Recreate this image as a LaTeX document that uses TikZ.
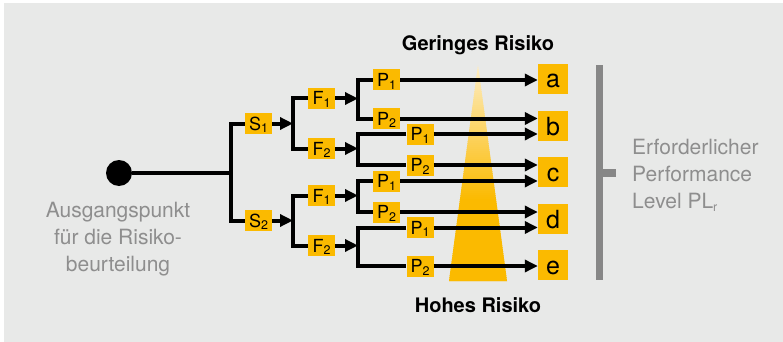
\documentclass[tikz,border=0pt]{standalone}
\usepackage{fontspec}
\setmainfont{TeX Gyre Heros}
\usetikzlibrary{arrows.meta}

\definecolor{panel}{HTML}{E8E9E8}
\definecolor{signal}{HTML}{FBBA00}
\definecolor{note}{HTML}{8E8E8E}
\definecolor{barcol}{HTML}{878787}
\definecolor{paleyellow}{HTML}{FDEDC4}

% letter with a lowered index
\newcommand\withsub[2]{#1\raisebox{-2.7pt}{\fontsize{12.5}{12.5}\selectfont #2}}

\tikzset{
  param/.style={fill=signal, minimum width=27pt, minimum height=21pt, inner sep=0pt,
    text height=17pt, text depth=4pt, font=\fontsize{18}{18}\selectfont},
  result/.style={fill=signal, minimum width=30pt, minimum height=30pt, inner sep=0pt,
    text height=24pt, text depth=6pt, font=\fontsize{25}{25}\selectfont},
  wire/.style={line width=4pt},
  arrow/.style={wire, -{Triangle[length=13pt,width=12pt]}},
  caption/.style={font=\fontsize{20}{20}\selectfont\bfseries, anchor=base, inner sep=0pt},
  remark/.style={text=note, font=\fontsize{21}{26.8}\selectfont, inner sep=0pt},
}

\begin{document}
\begin{tikzpicture}[x=1pt,y=-1pt]
\useasboundingbox (0,0) rectangle (783,342);
\fill[panel] (4,3) rectangle (783,342);

% wedge from low to high risk, pale at the tip and saturated towards the base
\begin{scope}
  \clip (478,65) -- (507,281) -- (449,281) -- cycle;
  \foreach \i [evaluate=\i as \p using {min(100,\i*100/67)}] in {0,...,108}
    \fill[signal!\p!paleyellow] (440,65+2*\i) rectangle (520,67.6+2*\i);
\end{scope}

% starting point
\node[circle, fill=black, minimum size=26pt, inner sep=0pt] (start) at (119,173) {};
\coordinate (fork0) at (231,173);

% severity
\node[param] (s1) at (258.5,123.5) {\withsub{S}{1}};
\node[param] (s2) at (258.5,220.5) {\withsub{S}{2}};
\coordinate (fork1) at (293,123.5);
\coordinate (fork2) at (293,220.5);

% frequency
\node[param] (f1a) at (321.5,98.5) {\withsub{F}{1}};
\node[param] (f2a) at (321.5,148.5) {\withsub{F}{2}};
\node[param] (f1b) at (321.5,195.5) {\withsub{F}{1}};
\node[param] (f2b) at (321.5,245.5) {\withsub{F}{2}};
\coordinate (forkA) at (358,98.5);
\coordinate (forkB) at (358,148.5);
\coordinate (forkC) at (358,195.5);
\coordinate (forkD) at (358,245.5);

% possibility of avoidance
\node[param] (p1a) at (386.5,80)  {\withsub{P}{1}};
\node[param] (p2a) at (386.5,118.5) {\withsub{P}{2}};
\node[param] (p1b) at (420,134)  {\withsub{P}{1}};
\node[param] (p2b) at (420,165)  {\withsub{P}{2}};
\node[param] (p1c) at (386.5,181) {\withsub{P}{1}};
\node[param] (p2c) at (386.5,212) {\withsub{P}{2}};
\node[param] (p1d) at (420,227.5) {\withsub{P}{1}};
\node[param] (p2d) at (420,266)  {\withsub{P}{2}};

% required performance levels
\node[result] (a) at (553,79)  {a};
\node[result] (b) at (553,126) {b};
\node[result] (c) at (553,172) {c};
\node[result] (d) at (553,219) {d};
\node[result] (e) at (553,265) {e};

% tree
\draw[wire] (start) -- (fork0);
\draw[wire] (s1.west) -| (fork0) |- (s2.west);
\draw[arrow] (s1.east) -- (fork1);
\draw[arrow] (s2.east) -- (fork2);
\draw[wire] (f1a.west) -| (fork1) |- (f2a.west);
\draw[wire] (f1b.west) -| (fork2) |- (f2b.west);
\draw[arrow] (f1a.east) -- (forkA);
\draw[arrow] (f2a.east) -- (forkB);
\draw[arrow] (f1b.east) -- (forkC);
\draw[arrow] (f2b.east) -- (forkD);
\draw[wire] (p1a.west) -| (forkA) |- (p2a.west);
\draw[wire] (p1b.west) -| (forkB) |- (p2b.west);
\draw[wire] (p1c.west) -| (forkC) |- (p2c.west);
\draw[wire] (p1d.west) -| (forkD) |- (p2d.west);

\draw[arrow] (p1a.east) -- (p1a.east -| a.west);
\draw[arrow] (p2a.east) -- (p2a.east -| b.west);
\draw[arrow] (p1b.east) -- (p1b.east -| b.west);
\draw[arrow] (p2b.east) -- (p2b.east -| c.west);
\draw[arrow] (p1c.east) -- (p1c.east -| c.west);
\draw[arrow] (p2c.east) -- (p2c.east -| d.west);
\draw[arrow] (p1d.east) -- (p1d.east -| d.west);
\draw[arrow] (p2d.east) -- (p2d.east -| e.west);

% bracket
\fill[barcol] (595.7,65) rectangle (603.3,280);
\fill[barcol] (603,169.2) rectangle (616,176.8);

% labels (a multi-line node sits on the baseline of its last line)
\node[caption] (low) at (478,51) {Geringes Risiko};
\node[caption] (high) at (478,312) {Hohes Risiko};
\node[remark, align=center, anchor=base] (origin) at (118,271.5)
  {Ausgangspunkt\\für die Risiko-\\beurteilung};
\node[remark, align=left, anchor=base west] (level) at (632,208.3)
  {Erforderlicher\\Performance\\Level \withsub{PL}{r}};
\end{tikzpicture}
\end{document}
